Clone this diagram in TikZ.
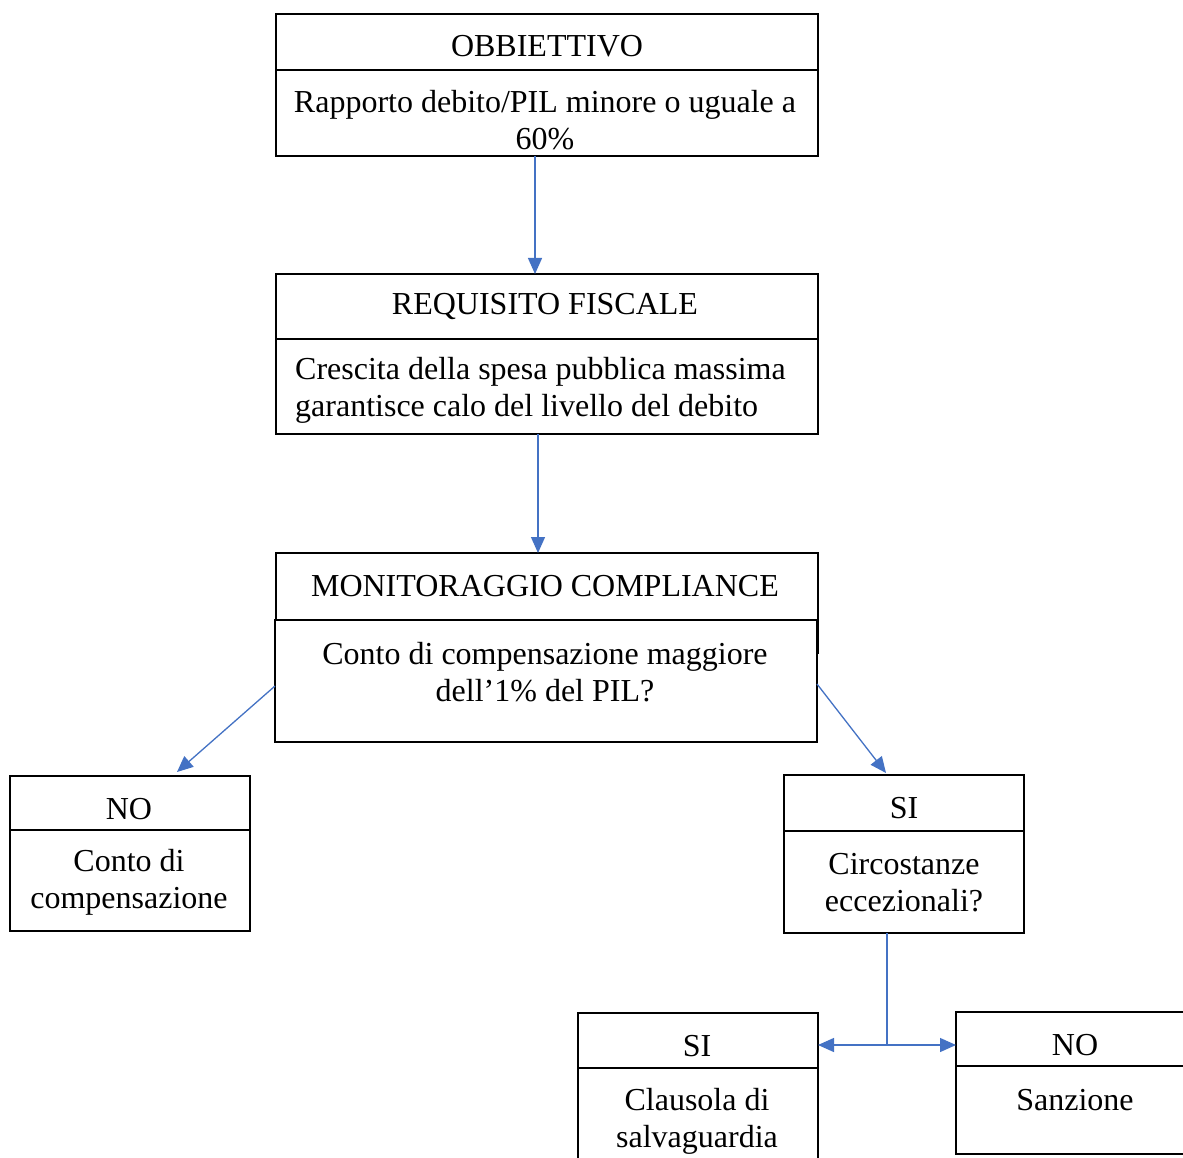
\documentclass[tikz,border=0pt]{standalone}
\usepackage{fontspec}
\setmainfont{Liberation Serif}
\usetikzlibrary{arrows.meta}
\definecolor{arrblue}{HTML}{4472C4}
\tikzset{
  box/.style={draw=black, line width=1.1pt, fill=white, inner sep=0pt, outer sep=0pt, anchor=north west},
  txt/.style={font=\fontsize{32}{37}\selectfont, align=center, inner sep=0pt, yshift=-3pt},
  conn/.style={draw=arrblue, line width=1.3pt},
  arr/.style={conn, -{Triangle[length=16pt,width=14pt]}}
}
\begin{document}
\begin{tikzpicture}[x=1pt,y=-1pt]
\useasboundingbox (0,0) rectangle (1183,1158);
\clip (0,0) rectangle (1183,1158);
\fill[white] (0,0) rectangle (1183,1158);
% box 1
\node[box, minimum width=542pt, minimum height=56pt] (b1h) at (276,14) {};
\node[box, minimum width=542pt, minimum height=86pt] (b1b) at (276,70) {};
\node[txt] (t1h) at (547,43) {OBBIETTIVO};
\node[txt] (t1b) at (545,117) {Rapporto debito/PIL minore o uguale a\\60\%};
% box 2
\node[box, minimum width=542pt, minimum height=65pt] (b2h) at (276,274) {};
\node[box, minimum width=542pt, minimum height=95pt] (b2b) at (276,339) {};
\node[txt] (t2h) at (545,304) {REQUISITO FISCALE};
\node[txt, align=left, anchor=west] (t2b) at (295,387) {Crescita della spesa pubblica massima\\garantisce calo del livello del debito};
% box 3
\node[box, minimum width=542pt, minimum height=100pt] (b3h) at (276,553) {};
\node[box, minimum width=542pt, minimum height=122pt] (b3b) at (275,620) {};
\node[txt] (t3h) at (545,583) {MONITORAGGIO COMPLIANCE};
\node[txt] (t3b) at (545,669) {Conto di compensazione maggiore\\dell’1\% del PIL?};
% box 4
\node[box, minimum width=240pt, minimum height=54pt] (b4h) at (10,776) {};
\node[box, minimum width=240pt, minimum height=101pt] (b4b) at (10,830) {};
\node[txt] (t4h) at (129,806) {NO};
\node[txt] (t4b) at (129,879) {Conto di\\compensazione};
% box 5
\node[box, minimum width=240pt, minimum height=56pt] (b5h) at (784,775) {};
\node[box, minimum width=240pt, minimum height=102pt] (b5b) at (784,831) {};
\draw[line width=2pt] (b5b.north west) -- (b5b.north east);
\node[txt] (t5h) at (904,805) {SI};
\node[txt] (t5b) at (904,880) {Circostanze\\eccezionali?};
% box 6
\node[box, minimum width=240pt, minimum height=55pt] (b6h) at (578,1013) {};
\node[box, minimum width=240pt, minimum height=110pt] (b6b) at (578,1068) {};
\node[txt] (t6h) at (697,1043) {SI};
\node[txt] (t6b) at (697,1118) {Clausola di\\salvaguardia};
% box 7
\node[box, minimum width=240pt, minimum height=54pt] (b7h) at (956,1012) {};
\node[box, minimum width=240pt, minimum height=88pt] (b7b) at (956,1066) {};
\node[txt] (t7h) at (1075,1042) {NO};
\node[txt] (t7b) at (1075,1097) {Sanzione};
% connectors
\draw[arr] ([xshift=-12pt]b1b.south) -- ([xshift=-12pt]b2h.north);
\draw[arr] ([xshift=-9pt]b2b.south) -- ([xshift=-9pt]b3h.north);
\draw[arr] ([yshift=-5pt]b3b.west) -- ([xshift=47pt,yshift=4pt]b4h.north);
\draw[arr] ([yshift=-3pt]b3b.east) -- ([xshift=-18pt,yshift=2pt]b5h.north);
\coordinate (j) at (887,1045);
\draw[conn] ([xshift=-17pt]b5b.south) -- (j);
\draw[arr] (j) -- (b6h.east |- j);
\draw[arr] (j) -- (b7h.west |- j);
\end{tikzpicture}
\end{document}
